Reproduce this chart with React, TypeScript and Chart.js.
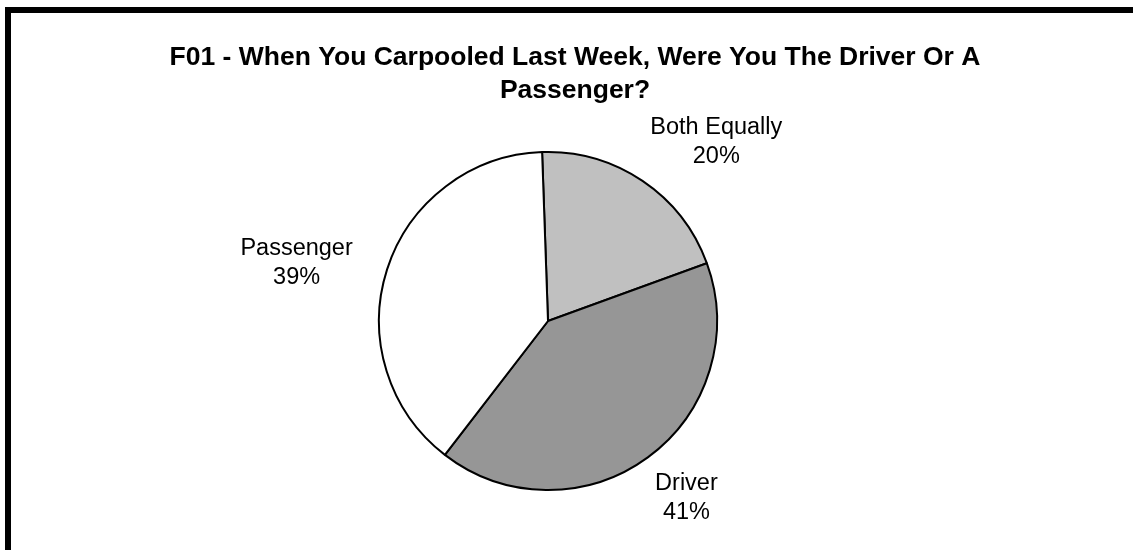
import React, { useEffect, useRef } from "react";
import { Chart, registerables } from "chart.js";

Chart.register(...registerables);

const titleLines = ["F01 - When You Carpooled Last Week, Were You The Driver Or A", "Passenger?"];
const categories = ["Both Equally", "Driver", "Passenger"];
const percentages = [20, 41, 39];
const sliceColors = ["#C0C0C0", "#969696", "#FFFFFF"];
// small per-label nudges (px) applied after automatic outside placement
const labelNudgeX = [0, -1, -21];
const labelNudgeY = [-5, 5, 20];

const FONT = "'Liberation Sans', Arial, Helvetica, sans-serif";

const framePlugin = {
  id: "frame",
  beforeDraw(chart: any) {
    const ctx = chart.ctx;
    ctx.save();
    ctx.fillStyle = "#FFFFFF";
    ctx.fillRect(0, 0, chart.width, chart.height);
    ctx.fillStyle = "#000000";
    ctx.fillRect(5, 7, chart.width - 5, 6);
    ctx.fillRect(5, 7, 6, chart.height - 7);
    // title
    ctx.font = `bold 26.5px ${FONT}`;
    ctx.textAlign = "center";
    ctx.textBaseline = "alphabetic";
    ctx.fillText(titleLines[0], 575, 65);
    ctx.fillText(titleLines[1], 575, 98);
    ctx.restore();
  },
};

const labelPlugin = {
  id: "outsideLabels",
  afterDatasetsDraw(chart: any) {
    const ctx = chart.ctx;
    const meta = chart.getDatasetMeta(0);
    ctx.save();
    ctx.font = `23.5px ${FONT}`;
    ctx.fillStyle = "#000000";
    ctx.textAlign = "center";
    ctx.textBaseline = "alphabetic";
    meta.data.forEach((arc: any, i: number) => {
      const { x, y, startAngle, endAngle, outerRadius } = arc.getProps(
        ["x", "y", "startAngle", "endAngle", "outerRadius"],
        true
      );
      const mid = (startAngle + endAngle) / 2;
      const ux = Math.cos(mid);
      const uy = Math.sin(mid);
      const l1 = String(chart.data.labels[i]);
      const l2 = `${chart.data.datasets[0].data[i]}%`;
      const w = Math.max(ctx.measureText(l1).width, ctx.measureText(l2).width);
      const h = 46;
      const g = 14;
      const cx = x + ux * (outerRadius + g) + Math.sign(ux) * (w / 2) + labelNudgeX[i];
      const cy = y + uy * (outerRadius + g) + Math.sign(uy) * (h / 2) + labelNudgeY[i];
      ctx.fillText(l1, cx, cy - 7);
      ctx.fillText(l2, cx, cy + 22);
    });
    ctx.restore();
  },
};

export default function App() {
  const ref = useRef<HTMLCanvasElement | null>(null);
  useEffect(() => {
    if (!ref.current) return;
    const chart = new Chart(ref.current, {
      type: "pie",
      data: {
        labels: categories,
        datasets: [
          {
            data: percentages,
            backgroundColor: sliceColors,
            borderColor: "#000000",
            borderWidth: 2,
          },
        ],
      },
      options: {
        responsive: false,
        animation: false,
        rotation: -2,
        layout: { padding: { left: 378, right: 415, top: 151, bottom: 59 } },
        plugins: {
          legend: { display: false },
          title: { display: false },
          tooltip: { enabled: false },
        },
      },
      plugins: [framePlugin, labelPlugin],
    });
    return () => chart.destroy();
  }, []);
  return (
    <div style={{ position: "fixed", left: 0, top: 0, width: 1133, height: 550, background: "#fff" }}>
      <canvas ref={ref} width={1133} height={550} style={{ display: "block" }} />
    </div>
  );
}
